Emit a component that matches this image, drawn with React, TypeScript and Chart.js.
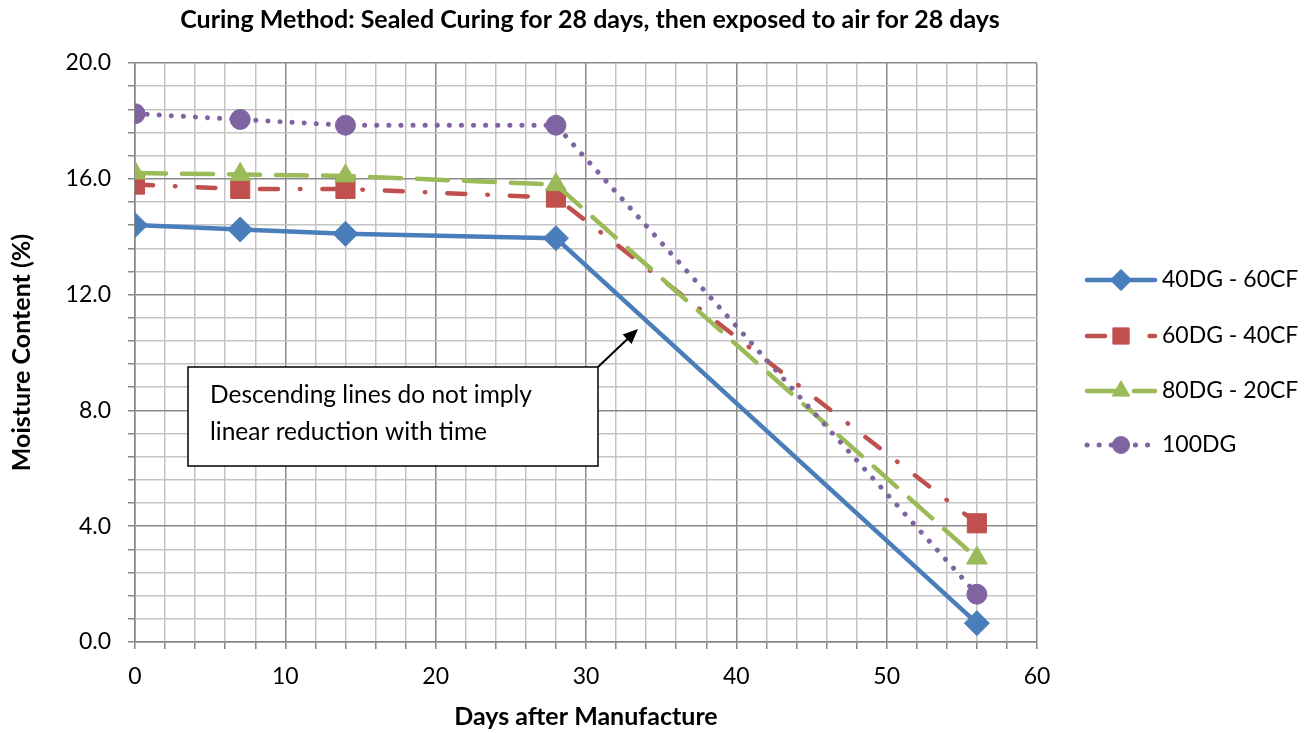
import React, { useEffect, useRef } from 'react';
import { Chart, registerables } from 'chart.js';

Chart.register(...registerables);

// ---------- data ----------
const days = [0, 7, 14, 28, 56];
const mix40DG60CF = [14.4, 14.25, 14.1, 13.95, 0.65];
const mix60DG40CF = [15.8, 15.65, 15.65, 15.35, 4.1];
const mix80DG20CF = [16.2, 16.15, 16.1, 15.8, 2.9];
const mix100DG = [18.25, 18.05, 17.85, 17.85, 1.65];
const seriesLabels = ['40DG - 60CF', '60DG - 40CF', '80DG - 20CF', '100DG'];

const xTickValues = [0, 2, 4, 6, 8, 10, 12, 14, 16, 18, 20, 22, 24, 26, 28, 30, 32, 34, 36, 38, 40, 42, 44, 46, 48, 50, 52, 54, 56, 58, 60];
const xLabelValues = [0, 10, 20, 30, 40, 50, 60];
const yTickValues = [0, 0.8, 1.6, 2.4, 3.2, 4, 4.8, 5.6, 6.4, 7.2, 8, 8.8, 9.6, 10.4, 11.2, 12, 12.8, 13.6, 14.4, 15.2, 16, 16.8, 17.6, 18.4, 19.2, 20];
const yLabelValues = [0, 4, 8, 12, 16, 20];

const titleText = 'Curing Method: Sealed Curing for 28 days, then exposed to air for 28 days';
const xTitleText = 'Days after Manufacture';
const yTitleText = 'Moisture Content (%)';
const noteLines = ['Descending lines do not imply', 'linear reduction with time'];

// ---------- styles ----------
const FONT = 'Lato, "Open Sans", sans-serif';
const MAJOR = '#8a8a8a';
const MINOR = '#c4c4c4';
const AXIS = '#868686';

type SeriesStyle = { color: string; dash: number[]; point: string; radius: number; width: number };
const styles: SeriesStyle[] = [
  { color: '#4A7EBB', dash: [], point: 'rectRot', radius: 12.5, width: 4.5 },
  { color: '#C0504D', dash: [18, 22, 0.5, 22], point: 'rect', radius: 13.5, width: 4.5 },
  { color: '#9BBB59', dash: [31, 16], point: 'triangle', radius: 12, width: 4.5 },
  { color: '#8064A2', dash: [0.1, 12], point: 'circle', radius: 10, width: 5 },
];
const seriesValues = [mix40DG60CF, mix60DG40CF, mix80DG20CF, mix100DG];

function near(list: number[], v: number) {
  return list.some((t) => Math.abs(t - v) < 1e-6);
}

function drawMarker(ctx: CanvasRenderingContext2D, kind: string, x: number, y: number, r: number, color: string) {
  ctx.save();
  ctx.fillStyle = color;
  ctx.strokeStyle = color;
  ctx.lineWidth = 1;
  ctx.setLineDash([]);
  ctx.beginPath();
  if (kind === 'rectRot') {
    ctx.moveTo(x, y - r);
    ctx.lineTo(x + r, y);
    ctx.lineTo(x, y + r);
    ctx.lineTo(x - r, y);
    ctx.closePath();
  } else if (kind === 'rect') {
    const h = r * Math.SQRT1_2;
    ctx.rect(x - h, y - h, 2 * h, 2 * h);
  } else if (kind === 'triangle') {
    ctx.moveTo(x, y - r);
    ctx.lineTo(x + r * Math.sin(Math.PI / 3), y + r * 0.5);
    ctx.lineTo(x - r * Math.sin(Math.PI / 3), y + r * 0.5);
    ctx.closePath();
  } else {
    ctx.arc(x, y, r, 0, Math.PI * 2);
  }
  ctx.fill();
  ctx.stroke();
  ctx.restore();
}

const decorPlugin = {
  id: 'decor',
  afterDraw(chart: any) {
    const ctx: CanvasRenderingContext2D = chart.ctx;
    const area = chart.chartArea;
    const cx = (area.left + area.right) / 2;
    const cy = (area.top + area.bottom) / 2;
    ctx.save();
    ctx.fillStyle = '#000';

    // title
    ctx.font = `bold 25px ${FONT}`;
    ctx.textAlign = 'center';
    ctx.textBaseline = 'alphabetic';
    ctx.fillText(titleText, 590, 28);

    // axis titles
    ctx.font = `bold 25px ${FONT}`;
    ctx.fillText(xTitleText, cx, 725);
    ctx.save();
    ctx.translate(30, cy);
    ctx.rotate(-Math.PI / 2);
    ctx.fillText(yTitleText, 0, 0);
    ctx.restore();

    // legend
    const rows = [280, 336, 391, 445];
    styles.forEach((s, i) => {
      const y = rows[i];
      ctx.save();
      ctx.strokeStyle = s.color;
      ctx.lineWidth = s.width;
      ctx.lineCap = 'round';
      ctx.setLineDash(s.dash);
      ctx.beginPath();
      ctx.moveTo(1087, y);
      ctx.lineTo(1155, y);
      ctx.stroke();
      ctx.restore();
      drawMarker(ctx, s.point, 1121, y, s.radius * 0.85, s.color);
      ctx.fillStyle = '#000';
      ctx.font = `23px ${FONT}`;
      ctx.textAlign = 'left';
      ctx.textBaseline = 'middle';
      ctx.fillText(seriesLabels[i], 1162, y);
    });

    // annotation box
    ctx.setLineDash([]);
    ctx.fillStyle = '#fff';
    ctx.strokeStyle = '#000';
    ctx.lineWidth = 1.5;
    ctx.fillRect(188, 367, 410, 99);
    ctx.strokeRect(188, 367, 410, 99);
    ctx.fillStyle = '#000';
    ctx.font = `24.5px ${FONT}`;
    ctx.textAlign = 'left';
    ctx.textBaseline = 'alphabetic';
    ctx.fillText(noteLines[0], 210, 403);
    ctx.fillText(noteLines[1], 210, 440);

    // arrow
    const x0 = 598, y0 = 367, x1 = 638, y1 = 329;
    const dx = x1 - x0, dy = y1 - y0;
    const len = Math.hypot(dx, dy);
    const ux = dx / len, uy = dy / len;
    const hl = 15, hw = 6.5;
    ctx.lineWidth = 2;
    ctx.beginPath();
    ctx.moveTo(x0, y0);
    ctx.lineTo(x1 - ux * hl * 0.8, y1 - uy * hl * 0.8);
    ctx.stroke();
    ctx.beginPath();
    ctx.moveTo(x1, y1);
    ctx.lineTo(x1 - ux * hl - uy * hw, y1 - uy * hl + ux * hw);
    ctx.lineTo(x1 - ux * hl + uy * hw, y1 - uy * hl - ux * hw);
    ctx.closePath();
    ctx.fill();

    ctx.restore();
  },
};

export default function App() {
  const canvasRef = useRef<HTMLCanvasElement | null>(null);

  useEffect(() => {
    if (!canvasRef.current) return;
    const datasets = seriesValues.map((vals, i) => {
      const s = styles[i];
      return {
        label: seriesLabels[i],
        data: days.map((d, j) => ({ x: d, y: vals[j] })),
        borderColor: s.color,
        backgroundColor: s.color,
        borderWidth: s.width,
        borderDash: s.dash,
        borderCapStyle: 'round' as const,
        borderJoinStyle: 'round' as const,
        pointStyle: s.point,
        pointRadius: s.radius,
        pointBorderWidth: 1,
        pointBackgroundColor: s.color,
        pointBorderColor: s.color,
        tension: 0,
        fill: false,
        order: 4 - i,
      };
    });

    const chart = new Chart(canvasRef.current, {
      type: 'line',
      data: { datasets: datasets as any },
      plugins: [decorPlugin],
      options: {
        animation: false,
        responsive: false,
        devicePixelRatio: 1,
        layout: { padding: { top: 63, right: 276, left: 0, bottom: 0 } },
        plugins: {
          legend: { display: false },
          title: { display: false },
          tooltip: { enabled: false },
        },
        scales: {
          x: {
            type: 'linear',
            min: 0,
            max: 60,
            afterBuildTicks: (axis: any) => {
              axis.ticks = xTickValues.map((v) => ({ value: v }));
            },
            afterFit: (axis: any) => {
              axis.height = 91;
            },
            ticks: {
              autoSkip: false,
              maxRotation: 0,
              padding: 14,
              color: '#000',
              font: { family: FONT, size: 23 },
              callback: (v: any) => (near(xLabelValues, Number(v)) ? String(v) : ''),
            },
            grid: {
              color: (c: any) => (c.tick && near(xLabelValues, c.tick.value) ? MAJOR : MINOR),
              lineWidth: 1.5,
              tickLength: 7,
              tickColor: AXIS,
              tickWidth: 1.5,
            },
            border: { color: AXIS, width: 1.5 },
          },
          y: {
            type: 'linear',
            min: 0,
            max: 20,
            afterBuildTicks: (axis: any) => {
              axis.ticks = yTickValues.map((v) => ({ value: v }));
            },
            afterFit: (axis: any) => {
              axis.width = 135;
            },
            ticks: {
              autoSkip: false,
              padding: 17,
              color: '#000',
              font: { family: FONT, size: 23 },
              callback: (v: any) => (near(yLabelValues, Number(v)) ? Number(v).toFixed(1) : ''),
            },
            grid: {
              color: (c: any) => (c.tick && near(yLabelValues, c.tick.value) ? MAJOR : MINOR),
              lineWidth: 1.5,
              tickLength: 7,
              tickColor: AXIS,
              tickWidth: 1.5,
            },
            border: { color: AXIS, width: 1.5 },
          },
        },
      } as any,
    });
    return () => chart.destroy();
  }, []);

  return (
    <div style={{ position: 'fixed', left: 0, top: 0, width: 1313, height: 733, background: '#fff' }}>
      <canvas ref={canvasRef} width={1313} height={733} style={{ display: 'block' }} />
    </div>
  );
}
